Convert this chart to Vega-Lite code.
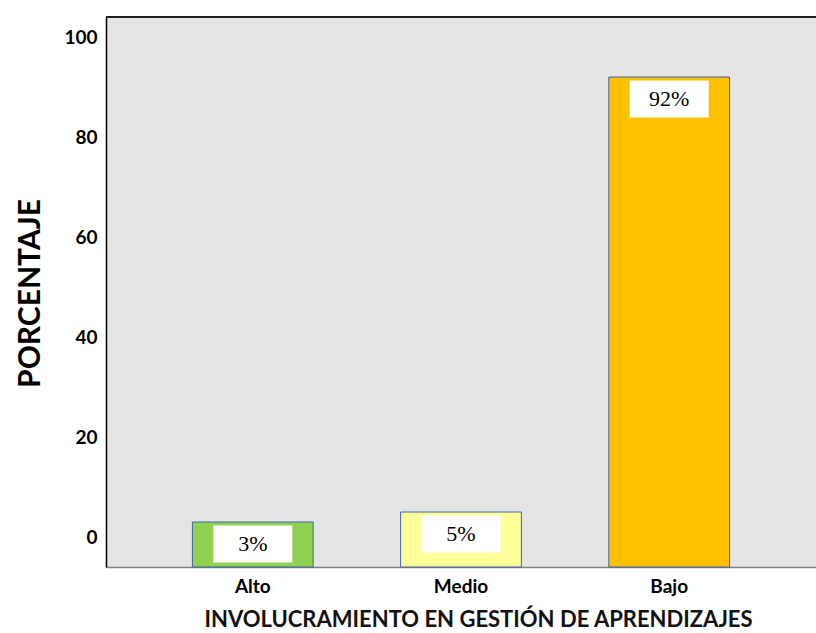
{
  "$schema": "https://vega.github.io/schema/vega-lite/v6.json",
  "width": 710,
  "height": 550,
  "autosize": {"type": "none"},
  "padding": {"left": 106, "top": 17, "right": 0, "bottom": 66},
  "background": "white",
  "config": {
    "view": {"fill": "#e5e5e5", "stroke": null},
    "font": "Lato"
  },
  "data": {
    "values": [
      {"nivel": "Alto", "porcentaje": 3},
      {"nivel": "Medio", "porcentaje": 5},
      {"nivel": "Bajo", "porcentaje": 92}
    ]
  },
  "transform": [
    {"calculate": "format(datum.porcentaje, 'd') + '%'", "as": "etiqueta"}
  ],
  "encoding": {
    "x": {
      "field": "nivel",
      "type": "nominal",
      "sort": ["Alto", "Medio", "Bajo"],
      "scale": {"paddingInner": 0.42, "paddingOuter": 0.415},
      "axis": {
        "title": "INVOLUCRAMIENTO EN GESTIÓN DE APRENDIZAJES",
        "titleFont": "Lato",
        "titleFontSize": 22,
        "titleFontWeight": "bold",
        "titleColor": "#111111",
        "titleX": 372,
        "titleY": 52,
        "titleBaseline": "middle",
        "labelAngle": 0,
        "labelFont": "Lato",
        "labelFontSize": 19,
        "labelFontWeight": "bold",
        "labelColor": "#000000",
        "labelPadding": 10,
        "ticks": false,
        "domainColor": "#7f7f7f",
        "domainWidth": 1.5
      }
    }
  },
  "layer": [
    {
      "mark": {"type": "bar", "stroke": "#3d64a8", "strokeWidth": 1},
      "encoding": {
        "y": {
          "field": "porcentaje",
          "type": "quantitative",
          "scale": {"domain": [-6, 104], "nice": false, "zero": false},
          "axis": {
            "title": "PORCENTAJE",
            "titleFont": "Lato",
            "titleFontSize": 30,
            "titleFontWeight": "bold",
            "titleColor": "#000000",
            "titleAngle": -90,
            "titleX": -76,
            "titleY": 276,
            "titleBaseline": "middle",
            "values": [0, 20, 40, 60, 80, 100],
            "labelFont": "Lato",
            "labelFontSize": 19,
            "labelFontWeight": "bold",
            "labelColor": "#000000",
            "labelPadding": 9,
            "ticks": false,
            "grid": false,
            "domainColor": "#000000",
            "domainWidth": 1.5
          }
        },
        "y2": {"datum": -6},
        "color": {
          "field": "nivel",
          "type": "nominal",
          "scale": {
            "domain": ["Alto", "Medio", "Bajo"],
            "range": ["#92d050", "#ffff99", "#ffc000"]
          },
          "legend": null
        }
      }
    },
    {
      "mark": {"type": "rule", "color": "#222222", "strokeWidth": 2},
      "encoding": {"y": {"datum": 104}, "x": {"value": 0}, "x2": {"value": 710}}
    },
    {
      "mark": {
        "type": "point",
        "shape": "M-1,-0.47L1,-0.47L1,0.47L-1,0.47Z",
        "size": 6241,
        "filled": true,
        "fill": "#ffffff",
        "opacity": 1,
        "yOffset": 22
      },
      "encoding": {
        "y": {"field": "porcentaje", "type": "quantitative"}
      }
    },
    {
      "mark": {
        "type": "text",
        "font": "Liberation Serif",
        "fontSize": 22,
        "color": "#000000",
        "baseline": "middle",
        "align": "center",
        "yOffset": 22
      },
      "encoding": {
        "y": {"field": "porcentaje", "type": "quantitative"},
        "text": {"field": "etiqueta", "type": "nominal"}
      }
    }
  ]
}
